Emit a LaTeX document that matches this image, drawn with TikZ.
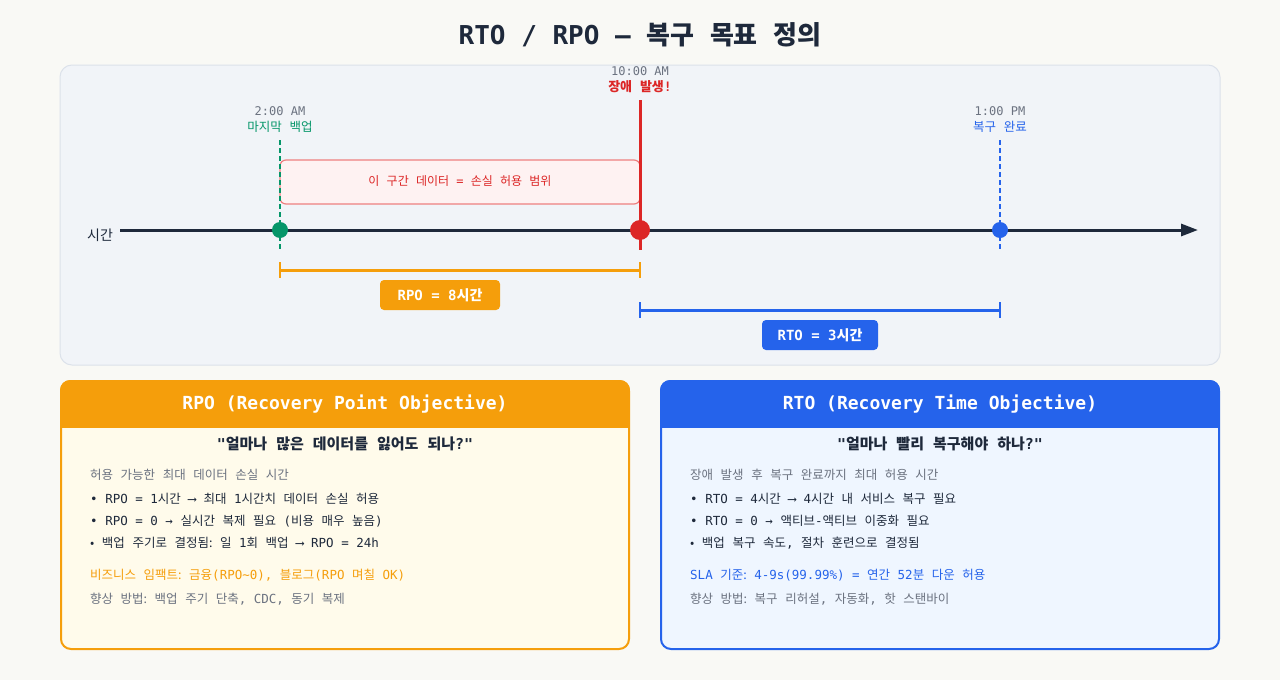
\documentclass[tikz,border=0pt]{standalone}
\usepackage{fontspec}
\setmonofont{DejaVu Sans Mono}
\renewcommand\familydefault{\ttdefault}
\newfontfamily\krfont{Noto Sans CJK KR}
\usetikzlibrary{arrows.meta}
\XeTeXinterchartokenstate=1
\newXeTeXintercharclass\hangulclass
\newcount\hcnt
\hcnt="AC00
\loop \XeTeXcharclass\hcnt=\hangulclass \advance\hcnt by 1 \ifnum\hcnt<"D7A4 \repeat
\XeTeXinterchartoks 0 \hangulclass = {\krfont}
\XeTeXinterchartoks 4095 \hangulclass = {\krfont}
\XeTeXinterchartoks \hangulclass 0 = {\ttfamily}
\XeTeXinterchartoks \hangulclass 4095 = {\ttfamily}
\definecolor{bg}{HTML}{F9F9F5}
\definecolor{panel}{HTML}{F1F4F8}
\definecolor{panelb}{HTML}{DCE2EA}
\definecolor{dark}{HTML}{1E293B}
\definecolor{grey}{HTML}{6B7280}
\definecolor{green}{HTML}{059669}
\definecolor{red}{HTML}{DC2626}
\definecolor{blue}{HTML}{2563EB}
\definecolor{orange}{HTML}{F59E0B}
\definecolor{pinkf}{HTML}{FEF2F2}
\definecolor{pinkb}{HTML}{EE8080}
\definecolor{rpof}{HTML}{FFFBEB}
\definecolor{rtof}{HTML}{EFF6FF}
\tikzset{
  lbl/.style={inner sep=0pt, font=\fontsize{12}{14}\selectfont},
  body/.style={inner sep=0pt, anchor=west, font=\fontsize{12.5}{15}\selectfont},
  dot/.style={circle, inner sep=0pt, minimum size=#1},
  tag/.style={rounded corners=4pt, inner sep=0pt, minimum height=30pt, text=white, font=\bfseries\fontsize{14}{16}\selectfont},
  head/.style={inner sep=0pt, text=white, font=\bfseries\fontsize{18}{20}\selectfont},
  sub/.style={inner sep=0pt, text=dark, font=\bfseries\fontsize{15}{18}\selectfont},
}
\begin{document}
\begin{tikzpicture}[x=1pt,y=-1pt]
\useasboundingbox (0,0) rectangle (1280,680);
\fill[bg] (0,0) rectangle (1280,680);
% title
\node[inner sep=0pt, text=dark, font=\bfseries\fontsize{26}{30}\selectfont] (title) at (640,35) {RTO / RPO — 복구 목표 정의};
% timeline panel
\draw[panelb, fill=panel, line width=1pt, rounded corners=12pt] (60,65) rectangle (1220,365);
% loss window box
\draw[pinkb, fill=pinkf, line width=1.2pt, rounded corners=6pt] (280,160) rectangle (640,204);
\node[lbl, text=red] (loss) at (460,181) {이 구간 데이터 = 손실 허용 범위};
% axis
\coordinate (ax0) at (120,230);
\coordinate (ax1) at (1198,230);
\node[lbl, text=dark, font=\fontsize{14}{16}\selectfont] (axl) at (100,235) {시간};
\draw[dark, line width=3pt, -{Triangle[length=17pt, width=12pt]}] (ax0) -- (ax1);
% backup
\coordinate (bkt) at (280,140);
\coordinate (bkb) at (280,250);
\draw[green, line width=2pt, dash pattern=on 5pt off 3pt] (bkt) -- (bkb);
\node[dot=16pt, fill=green] (bk) at (280,230) {};
\node[lbl, text=grey] (bktime) at (280,111) {2:00 AM};
\node[lbl, text=green, font=\fontsize{12.5}{15}\selectfont] (bkname) at (280,127) {마지막 백업};
% failure
\coordinate (ft) at (640,100);
\coordinate (fb) at (640,250);
\draw[red, line width=3pt] (ft) -- (fb);
\node[dot=20pt, fill=red] (fail) at (640,230) {};
\node[lbl, text=grey] (ftime) at (640,71) {10:00 AM};
\node[lbl, text=red, font=\bfseries\fontsize{13}{15}\selectfont] (fname) at (640,87) {장애 발생!};
% recovery
\coordinate (rt) at (1000,140);
\coordinate (rb) at (1000,250);
\draw[blue, line width=2pt, dash pattern=on 5pt off 3pt] (rt) -- (rb);
\node[dot=16pt, fill=blue] (rec) at (1000,230) {};
\node[lbl, text=grey] (rtime) at (1000,111) {1:00 PM};
\node[lbl, text=blue, font=\fontsize{12.5}{15}\selectfont] (rname) at (1000,127) {복구 완료};
% RPO bracket
\coordinate (rpoL) at (280,270);
\coordinate (rpoR) at (640,270);
\draw[orange, line width=3pt] (rpoL) -- (rpoR);
\draw[orange, line width=2pt] ([yshift=8pt]rpoL) -- ([yshift=-8pt]rpoL);
\draw[orange, line width=2pt] ([yshift=8pt]rpoR) -- ([yshift=-8pt]rpoR);
\node[tag, fill=orange, minimum width=120pt] (rpotag) at (440,295) {RPO = 8시간};
% RTO bracket
\coordinate (rtoL) at (640,310);
\coordinate (rtoR) at (1000,310);
\draw[blue, line width=3pt] (rtoL) -- (rtoR);
\draw[blue, line width=2pt] ([yshift=8pt]rtoL) -- ([yshift=-8pt]rtoL);
\draw[blue, line width=2pt] ([yshift=8pt]rtoR) -- ([yshift=-8pt]rtoR);
\node[tag, fill=blue, minimum width=116pt] (rtotag) at (820,335) {RTO = 3시간};
% RPO card
\fill[rpof, rounded corners=10pt] (61,381) rectangle (629,649);
\begin{scope}
\clip[rounded corners=10pt] (60,380) rectangle (630,650);
\fill[orange] (60,380) rectangle (630,428);
\end{scope}
\draw[orange, line width=2pt, rounded corners=10pt] (61,381) rectangle (629,649);
\node[head] (rpohead) at (345,404) {RPO (Recovery Point Objective)};
\node[sub] (rposub) at (345,444) {"얼마나 많은 데이터를 잃어도 되나?"};
\node[body, text=grey] (rpo1) at (90,475) {허용 가능한 최대 데이터 손실 시간};
\node[body, text=dark] (rpo2) at (90,499) {• RPO = 1시간 ⟶ 최대 1시간치 데이터 손실 허용};
\node[body, text=dark] (rpo3) at (90,521) {• RPO = 0 → 실시간 복제 필요 (비용 매우 높음)};
\node[body, text=dark] (rpo4) at (90,543) {{\krfont •} 백업 주기로 결정됨{\krfont :} 일 1회 백업 ⟶ RPO = 24h};
\node[body, text=orange] (rpo5) at (90,575) {비즈니스 임팩트{\krfont :} 금융(RPO{\char"7E}0), 블로그(RPO 며칠 OK)};
\node[body, text=grey] (rpo6) at (90,599) {향상 방법{\krfont :} 백업 주기 단축, CDC, 동기 복제};
% RTO card
\fill[rtof, rounded corners=10pt] (661,381) rectangle (1219,649);
\begin{scope}
\clip[rounded corners=10pt] (660,380) rectangle (1220,650);
\fill[blue] (660,380) rectangle (1220,428);
\end{scope}
\draw[blue, line width=2pt, rounded corners=10pt] (661,381) rectangle (1219,649);
\node[head] (rtohead) at (940,404) {RTO (Recovery Time Objective)};
\node[sub] (rtosub) at (940,444) {"얼마나 빨리 복구해야 하나?"};
\node[body, text=grey] (rto1) at (690,475) {장애 발생 후 복구 완료까지 최대 허용 시간};
\node[body, text=dark] (rto2) at (690,499) {• RTO = 4시간 ⟶ 4시간 내 서비스 복구 필요};
\node[body, text=dark] (rto3) at (690,521) {• RTO = 0 → 액티브-액티브 이중화 필요};
\node[body, text=dark] (rto4) at (690,543) {{\krfont •} 백업 복구 속도, 절차 훈련으로 결정됨};
\node[body, text=blue] (rto5) at (690,575) {SLA 기준{\krfont :} 4-9s(99.99\%) = 연간 52분 다운 허용};
\node[body, text=grey] (rto6) at (690,599) {향상 방법{\krfont :} 복구 리허설, 자동화, 핫 스탠바이};
\end{tikzpicture}
\end{document}
